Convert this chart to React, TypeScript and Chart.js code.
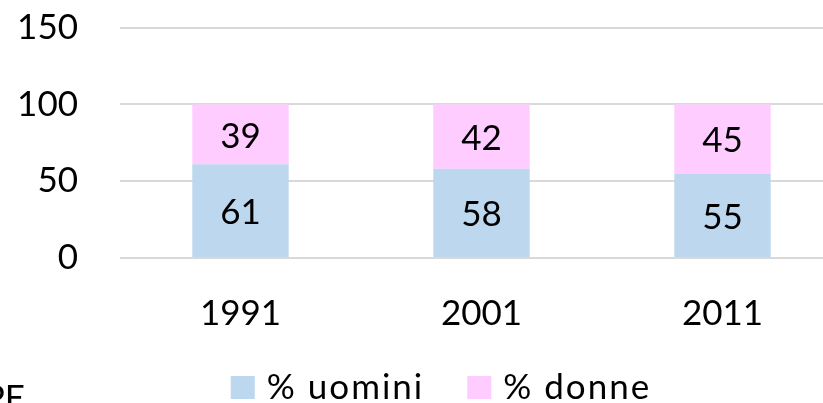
import React, { useEffect, useRef } from "react";
import { Chart, registerables } from "chart.js";

Chart.register(...registerables);

const categories = ["1991", "2001", "2011"];
const seriesNames = ["% uomini", "% donne"];
const uomini = [61, 58, 55];
const donne = [39, 42, 45];
const yTicks = [0, 50, 100, 150];
const colors = ["#BDD7EE", "#FFCCFF"];
const cutText = "PE";

const FONT = "Lato";
const FS = 35;

const valueLabels = {
  id: "valueLabels",
  afterDatasetsDraw(chart: any) {
    const ctx = chart.ctx;
    ctx.save();
    ctx.font = `${FS}px ${FONT}`;
    ctx.fillStyle = "#000";
    ctx.textAlign = "center";
    ctx.textBaseline = "middle";
    chart.data.datasets.forEach((ds: any, di: number) => {
      const meta = chart.getDatasetMeta(di);
      meta.data.forEach((el: any, i: number) => {
        const y = (el.y + el.base) / 2 + 2;
        ctx.fillText(String(ds.data[i]), el.x, y);
      });
    });
    ctx.restore();
  },
};

const customLegend = {
  id: "customLegend",
  afterDraw(chart: any) {
    const ctx = chart.ctx;
    ctx.save();
    ctx.font = `${FS}px ${FONT}`;
    (ctx as any).letterSpacing = "2px";
    const box = 24;
    const boxH = 23;
    const gapText = 12;
    const gapItem = 43;
    const items = chart.data.datasets.map((ds: any) => ({
      text: ds.label,
      color: ds.backgroundColor,
      w: ctx.measureText(ds.label).width,
    }));
    const total = items.reduce((s: number, it: any) => s + box + gapText + it.w, 0) + gapItem * (items.length - 1);
    const centerX = 441;
    let x = centerX - total / 2;
    const baseline = 399;
    items.forEach((it: any) => {
      ctx.fillStyle = it.color;
      ctx.fillRect(x, baseline - boxH, box, boxH);
      x += box + gapText;
      ctx.fillStyle = "#000";
      ctx.textAlign = "left";
      ctx.textBaseline = "alphabetic";
      ctx.fillText(it.text, x, baseline);
      x += it.w + gapItem;
    });
    (ctx as any).letterSpacing = "0px";
    // cut-off text at bottom-left
    ctx.textAlign = "right";
    ctx.fillText(cutText, 25, 410);
    ctx.restore();
  },
};

export default function App() {
  const ref = useRef<HTMLCanvasElement>(null);
  useEffect(() => {
    if (!ref.current) return;
    const chart = new Chart(ref.current, {
      type: "bar",
      data: {
        labels: categories,
        datasets: [
          { label: seriesNames[0], data: uomini, backgroundColor: colors[0], borderWidth: 0 },
          { label: seriesNames[1], data: donne, backgroundColor: colors[1], borderWidth: 0 },
        ],
      },
      options: {
        responsive: false,
        animation: false,
        events: [],
        layout: { padding: { top: 27.5, right: 0, bottom: 0, left: 0 } },
        datasets: { bar: { categoryPercentage: 1, barPercentage: 0.4 } },
        plugins: { legend: { display: false }, tooltip: { enabled: false } },
        scales: {
          x: {
            stacked: true,
            grid: { display: false, drawTicks: false },
            border: { display: false },
            ticks: { font: { family: FONT, size: FS }, color: "#000", padding: 35 },
            afterFit: (s: any) => {
              s.height = 145;
            },
          },
          y: {
            stacked: true,
            min: 0,
            max: 150,
            afterBuildTicks: (s: any) => {
              s.ticks = yTicks.map((v) => ({ value: v }));
            },
            grid: {
              color: "#D9D9D9",
              lineWidth: 2,
              drawTicks: true,
              tickLength: 42,
              tickColor: "rgba(0,0,0,0)",
            },
            border: { display: false },
            ticks: { font: { family: FONT, size: FS }, color: "#000", padding: 0 },
            afterFit: (s: any) => {
              s.width = 120;
            },
          },
        },
      },
      plugins: [valueLabels, customLegend],
    });
    return () => chart.destroy();
  }, []);
  return (
    <div style={{ position: "absolute", left: 0, top: 0, width: 823, height: 403, overflow: "hidden", background: "#fff" }}>
      <canvas ref={ref} width={843} height={403} style={{ width: 843, height: 403, display: "block" }} />
    </div>
  );
}
